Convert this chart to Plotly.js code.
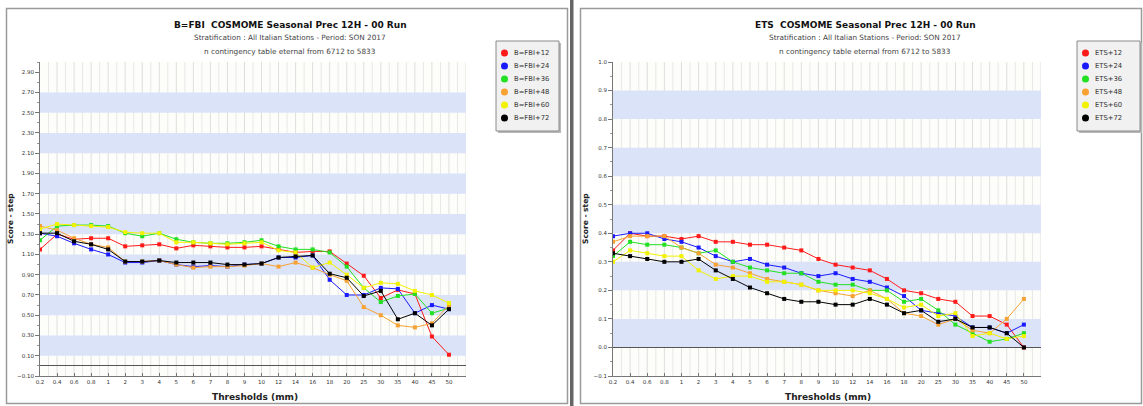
<!DOCTYPE html>
<html>
<head>
<meta charset="utf-8">
<script src="https://cdn.plot.ly/plotly-3.0.1.min.js"></script>
<style>
html,body{margin:0;padding:0;background:#fff;}
#chart{width:1143px;height:406px;}
</style>
</head>
<body>
<div id="chart"></div>
<script>
// ---------------- data ----------------
const thresholds = ['0.2','0.4','0.6','0.8','1','2','3','4','5','6','7','8','9','10','12','14','16','18','20','25','30','35','40','45','50'];

const fbiNames = ['B=FBI+12','B=FBI+24','B=FBI+36','B=FBI+48','B=FBI+60','B=FBI+72'];
const fbi12 = [1.15,1.30,1.25,1.26,1.26,1.18,1.19,1.20,1.16,1.19,1.18,1.17,1.17,1.18,1.15,1.12,1.13,1.13,1.01,0.89,0.67,0.75,0.71,0.29,0.11];
const fbi24 = [1.31,1.28,1.21,1.15,1.10,1.02,1.02,1.04,1.00,0.98,0.99,0.98,1.00,1.01,1.07,1.07,1.09,0.85,0.70,0.70,0.77,0.76,0.52,0.60,0.56];
const fbi36 = [1.24,1.38,1.39,1.39,1.38,1.31,1.28,1.31,1.25,1.22,1.21,1.21,1.22,1.24,1.18,1.15,1.15,1.12,0.98,0.77,0.63,0.69,0.71,0.52,0.57];
const fbi48 = [1.38,1.34,1.26,1.20,1.17,1.03,1.03,1.04,1.00,0.97,0.98,0.98,0.99,1.01,0.98,1.02,0.97,0.90,0.84,0.58,0.50,0.40,0.38,0.42,0.60];
const fbi60 = [1.35,1.40,1.39,1.38,1.37,1.32,1.31,1.31,1.22,1.22,1.21,1.20,1.21,1.22,1.14,1.12,0.97,1.02,0.90,0.77,0.82,0.81,0.74,0.70,0.62];
const fbi72 = [1.31,1.31,1.23,1.20,1.15,1.03,1.03,1.04,1.02,1.02,1.02,1.00,1.00,1.01,1.07,1.08,1.09,0.91,0.87,0.69,0.74,0.46,0.52,0.40,0.56];

const etsNames = ['ETS+12','ETS+24','ETS+36','ETS+48','ETS+60','ETS+72'];
const ets12 = [0.34,0.40,0.39,0.39,0.38,0.39,0.37,0.37,0.36,0.36,0.35,0.34,0.31,0.29,0.28,0.27,0.24,0.20,0.19,0.17,0.16,0.11,0.11,0.08,0.00];
const ets24 = [0.39,0.40,0.40,0.38,0.37,0.35,0.32,0.30,0.31,0.29,0.28,0.26,0.25,0.26,0.24,0.23,0.21,0.18,0.13,0.12,0.11,0.07,0.07,0.05,0.08];
const ets36 = [0.32,0.37,0.36,0.36,0.35,0.33,0.34,0.30,0.28,0.27,0.26,0.26,0.23,0.22,0.22,0.20,0.20,0.16,0.17,0.13,0.08,0.05,0.02,0.03,0.05];
const ets48 = [0.37,0.39,0.39,0.39,0.35,0.33,0.29,0.28,0.26,0.24,0.23,0.22,0.20,0.19,0.18,0.20,0.17,0.12,0.11,0.08,0.10,0.06,0.05,0.10,0.17];
const ets60 = [0.30,0.34,0.33,0.32,0.32,0.27,0.24,0.25,0.25,0.23,0.23,0.22,0.20,0.20,0.20,0.19,0.17,0.14,0.15,0.11,0.12,0.04,0.05,0.03,0.04];
const ets72 = [0.33,0.32,0.31,0.30,0.30,0.31,0.27,0.24,0.21,0.19,0.17,0.16,0.16,0.15,0.15,0.17,0.15,0.12,0.13,0.09,0.10,0.07,0.07,0.05,0.00];

const fbiTitle = 'B=FBI  COSMOME Seasonal Prec 12H - 00 Run';
const etsTitle = 'ETS  COSMOME Seasonal Prec 12H - 00 Run';
const subTitle = 'Stratification : All Italian Stations - Period: SON 2017';
const subTitle2 = 'n contingency table eternal from 6712 to 5833';
const yTitle = 'Score - step';
const xTitle = 'Thresholds (mm)';

// ---------------- style ----------------
const colors = ['#ff1a1a','#1a1aff','#22e022','#f7a233','#f2f200','#000000'];
const W = 1143, H = 406;
const FONT = 'DejaVu Sans, Verdana, sans-serif';
const px = x => x / W;
const py = y => 1 - y / H;

const idx = thresholds.map((t, i) => i);
const fbiSeries = [fbi12, fbi24, fbi36, fbi48, fbi60, fbi72];
const etsSeries = [ets12, ets24, ets36, ets48, ets60, ets72];

const traces = [];
fbiSeries.forEach((s, i) => traces.push({
  type: 'scatter', mode: 'lines+markers', x: idx, y: s, name: fbiNames[i],
  xaxis: 'x', yaxis: 'y', showlegend: false,
  line: {color: colors[i], width: 1}, marker: {color: colors[i], size: 4, symbol: 'square'}
}));
etsSeries.forEach((s, i) => traces.push({
  type: 'scatter', mode: 'lines+markers', x: idx, y: s, name: etsNames[i],
  xaxis: 'x2', yaxis: 'y2', showlegend: false,
  line: {color: colors[i], width: 1}, marker: {color: colors[i], size: 4, symbol: 'square'}
}));

function xax(domain, anchor) {
  return {
    domain: domain, anchor: anchor, range: [0, 25],
    tickvals: idx, ticktext: thresholds,
    ticks: 'inside', ticklen: 3, tickcolor: '#777',
    showline: true, linecolor: '#777', linewidth: 1,
    tickfont: {family: FONT, size: 5.5, color: '#333'},
    showgrid: false, zeroline: false, fixedrange: true, automargin: false
  };
}
function yax(domain, anchor, range, dtick, fmt) {
  return {
    domain: domain, anchor: anchor, range: range,
    tick0: range[0], dtick: dtick, tickformat: fmt,
    ticks: 'outside', ticklen: 4, tickcolor: '#777',
    minor: {dtick: dtick / 2, ticks: 'outside', ticklen: 2, tickcolor: '#999', showgrid: false},
    showline: true, linecolor: '#777', linewidth: 1,
    tickfont: {family: FONT, size: 5.5, color: '#333'},
    showgrid: false, zeroline: true, zerolinecolor: '#555', zerolinewidth: 1,
    fixedrange: true, automargin: false
  };
}

const yDom = [py(376), py(62)];
const layout = {
  width: W, height: H,
  margin: {l: 0, r: 0, t: 0, b: 0},
  paper_bgcolor: '#ffffff', plot_bgcolor: '#fdfdfa',
  showlegend: false,
  xaxis: xax([px(40), px(466)], 'y'),
  yaxis: yax(yDom, 'x', [-0.1, 3.0], 0.2, '.2f'),
  xaxis2: xax([px(613), px(1041)], 'y2'),
  yaxis2: yax(yDom, 'x2', [-0.1, 1.0], 0.1, '.1f'),
  shapes: [], annotations: []
};

// vertical grid (every half category) then alternating bands on top
function gridAndBands(xref, yref, start, step, top) {
  for (let k = 1; k <= 2 * thresholds.length; k++) {
    layout.shapes.push({type: 'line', xref: xref, yref: yref + ' domain', x0: k / 2, x1: k / 2, y0: 0, y1: 1,
      line: {color: k % 2 === 0 ? '#dedede' : '#e8e8e8', width: 1}, layer: 'below'});
  }
  for (let v = start; v < top - 1e-9; v += 2 * step) {
    layout.shapes.push({type: 'rect', xref: xref + ' domain', yref: yref, x0: 0, x1: 1,
      y0: v, y1: v + step, fillcolor: '#dbe3f9', line: {width: 0}, layer: 'below'});
  }
}
gridAndBands('x', 'y', 0.1, 0.2, 2.9);
gridAndBands('x2', 'y2', 0.0, 0.1, 0.95);

// panel frames
layout.shapes.push({type: 'rect', xref: 'paper', yref: 'paper', x0: px(6.5), x1: px(567.5), y0: py(403.5), y1: py(8.5),
  line: {color: '#9a9a9a', width: 1.5}, fillcolor: 'rgba(0,0,0,0)', layer: 'above'});
layout.shapes.push({type: 'rect', xref: 'paper', yref: 'paper', x0: px(580.5), x1: px(1141.5), y0: py(403.5), y1: py(8.5),
  line: {color: '#9a9a9a', width: 1.5}, fillcolor: 'rgba(0,0,0,0)', layer: 'above'});
layout.shapes.push({type: 'rect', xref: 'paper', yref: 'paper', x0: px(570), x1: px(573.5), y0: 0, y1: 1,
  line: {width: 0}, fillcolor: '#666', layer: 'above'});

// titles
function titles(cx, main, xc, yc) {
  layout.annotations.push({xref: 'paper', yref: 'paper', x: px(cx), y: py(25), text: '<b>' + main + '</b>',
    showarrow: false, xanchor: 'center', yanchor: 'middle', font: {family: FONT, size: 9, color: '#111'}});
  layout.annotations.push({xref: 'paper', yref: 'paper', x: px(cx), y: py(37.5), text: subTitle,
    showarrow: false, xanchor: 'center', yanchor: 'middle', font: {family: FONT, size: 7.3, color: '#444'}});
  layout.annotations.push({xref: 'paper', yref: 'paper', x: px(cx), y: py(51), text: subTitle2,
    showarrow: false, xanchor: 'center', yanchor: 'middle', font: {family: FONT, size: 7.3, color: '#444'}});
  layout.annotations.push({xref: 'paper', yref: 'paper', x: px(xc), y: py(397), text: '<b>' + xTitle + '</b>',
    showarrow: false, xanchor: 'center', yanchor: 'middle', font: {family: FONT, size: 9, color: '#222'}});
  layout.annotations.push({xref: 'paper', yref: 'paper', x: px(yc), y: py(219), text: '<b>' + yTitle + '</b>',
    textangle: -90, showarrow: false, xanchor: 'center', yanchor: 'middle', font: {family: FONT, size: 7.5, color: '#222'}});
}
titles(290, fbiTitle, 255, 11);
titles(865, etsTitle, 828, 586);

// legends
function legendBox(x0, names) {
  const x1 = x0 + 63, y0 = 41, y1 = 131;
  layout.shapes.push({type: 'rect', xref: 'paper', yref: 'paper', x0: px(x0 + 2), x1: px(x1 + 2), y0: py(y1 + 2), y1: py(y0 + 2),
    line: {width: 0}, fillcolor: '#b8b8b8', layer: 'above'});
  layout.shapes.push({type: 'rect', xref: 'paper', yref: 'paper', x0: px(x0), x1: px(x1), y0: py(y1), y1: py(y0),
    line: {color: '#8a8a8a', width: 1}, fillcolor: '#f1f1f1', layer: 'above'});
  names.forEach((n, i) => {
    const cy = 53 + i * 13;
    layout.shapes.push({type: 'circle', xref: 'paper', yref: 'paper', x0: px(x0 + 5), x1: px(x0 + 12),
      y0: py(cy + 3.5), y1: py(cy - 3.5), fillcolor: colors[i], line: {width: 0}, layer: 'above'});
    layout.annotations.push({xref: 'paper', yref: 'paper', x: px(x0 + 16), y: py(cy), text: n,
      showarrow: false, xanchor: 'left', yanchor: 'middle', font: {family: FONT, size: 6.8, color: '#333'}});
  });
}
legendBox(496, fbiNames);
legendBox(1077, etsNames);

Plotly.newPlot('chart', traces, layout, {staticPlot: true, displayModeBar: false});
</script>
</body>
</html>
